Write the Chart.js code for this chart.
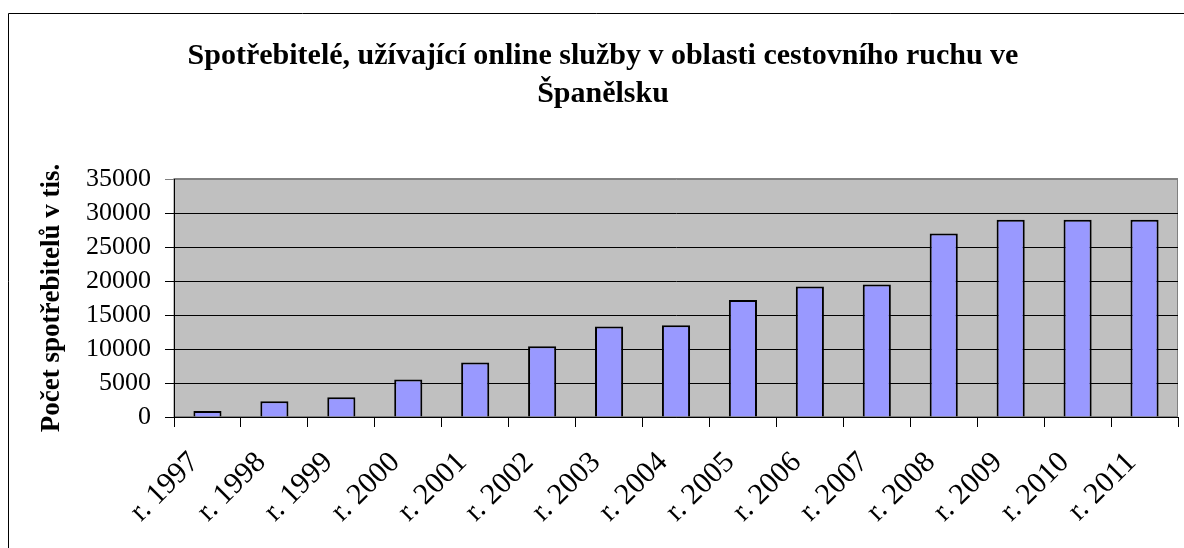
<!DOCTYPE html>
<html>
<head>
<meta charset="utf-8">
<script src="https://cdn.jsdelivr.net/npm/chart.js@4"></script>
<style>
  html, body { margin: 0; padding: 0; background: #fff; }
  #wrap { position: relative; width: 1184px; height: 548px; }
</style>
</head>
<body>
<div id="wrap"><canvas id="chart" width="1184" height="548"></canvas></div>
<script>
const years = ['r. 1997', 'r. 1998', 'r. 1999', 'r. 2000', 'r. 2001', 'r. 2002', 'r. 2003', 'r. 2004',
  'r. 2005', 'r. 2006', 'r. 2007', 'r. 2008', 'r. 2009', 'r. 2010', 'r. 2011'];
const consumers = [900, 2300, 2900, 5500, 8000, 10400, 13300, 13500, 17200, 19200, 19500, 27000, 29000, 29000, 29000];
const titleLines = ['Spotřebitelé, užívající online služby v oblasti cestovního ruchu ve', 'Španělsku'];
const yTitle = 'Počet spotřebitelů v tis.';

const serif = '"Liberation Serif", "Times New Roman", serif';

// plot area fill + gray frame, and the outer chart frame
const frame = {
  id: 'frame',
  beforeDraw(chart) {
    const { ctx, chartArea: a } = chart;
    ctx.save();
    ctx.fillStyle = '#fff';
    ctx.fillRect(0, 0, chart.width, chart.height);
    ctx.strokeStyle = '#000';
    ctx.lineWidth = 1;
    ctx.beginPath();
    ctx.moveTo(8.5, chart.height + 2);
    ctx.lineTo(8.5, 13.5);
    ctx.lineTo(chart.width + 2, 13.5);
    ctx.stroke();
    ctx.fillStyle = '#C0C0C0';
    ctx.fillRect(a.left, a.top, a.right - a.left, a.bottom - a.top);
    ctx.strokeStyle = '#808080';
    ctx.strokeRect(a.left, a.top - 0.5, a.right - a.left - 0.5, a.bottom - a.top);
    ctx.restore();
  },
};

new Chart(document.getElementById('chart'), {
  type: 'bar',
  data: {
    labels: years,
    datasets: [{
      data: consumers,
      backgroundColor: '#9999FF',
      borderColor: '#000',
      borderWidth: 2,
      barPercentage: 0.42,
      categoryPercentage: 1,
    }],
  },
  options: {
    responsive: false,
    animation: false,
    layout: { padding: { left: 28, right: 6, top: 0, bottom: 0 } },
    plugins: {
      legend: { display: false },
      tooltip: { enabled: false },
      title: {
        display: true,
        text: titleLines,
        color: '#000',
        font: { family: serif, size: 30, weight: 'bold', lineHeight: 1.267 },
        padding: { top: 37, bottom: 66 },
      },
    },
    scales: {
      x: {
        offset: true,
        afterFit: (scale) => {
          scale.height = 131;
          scale.paddingRight = 0;
        },
        grid: { drawOnChartArea: false, drawTicks: true, tickLength: 10, color: '#000', offset: true },
        border: { color: '#000', width: 1 },
        ticks: {
          color: '#000',
          font: { family: serif, size: 30 },
          minRotation: 45,
          maxRotation: 45,
          padding: 18,
          labelOffset: -13,
          autoSkip: false,
        },
      },
      y: {
        min: 0,
        max: 35000,
        afterFit: (scale) => { scale.width = 146; },
        grid: {
          color: (c) => (c.tick && c.tick.value === 35000 ? '#808080' : '#000'),
          tickLength: 9,
        },
        border: { color: '#000', width: 1 },
        ticks: {
          stepSize: 5000,
          autoSkip: false,
          color: '#000',
          padding: 14,
          font: { family: serif, size: 26, lineHeight: 1 },
          callback: (value) => String(value),
        },
        title: {
          display: true,
          text: yTitle,
          color: '#000',
          font: { family: serif, size: 27, weight: 'bold' },
          padding: { top: 8 },
        },
      },
    },
  },
  plugins: [frame],
});
</script>
</body>
</html>
